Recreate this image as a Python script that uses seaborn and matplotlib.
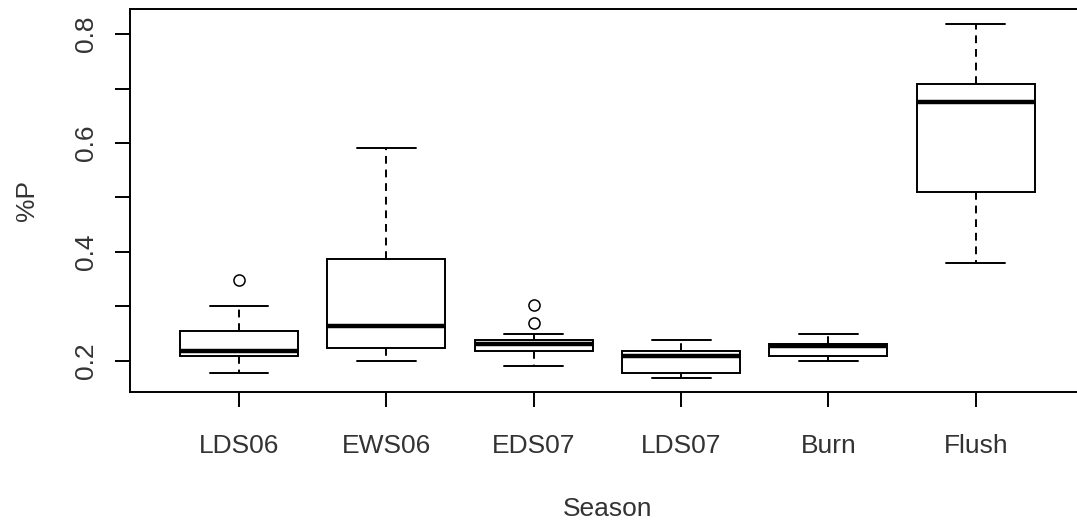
import numpy as np
import pandas as pd
import seaborn as sns
from matplotlib import pyplot as plt

seasons = ["LDS06", "EWS06", "EDS07", "LDS07", "Burn", "Flush"]

# lower whisker, Q1, median, Q3, upper whisker
lds06 = [0.178, 0.209, 0.218, 0.255, 0.300]
ews06 = [0.200, 0.224, 0.264, 0.388, 0.590]
eds07 = [0.191, 0.219, 0.232, 0.238, 0.249]
lds07 = [0.169, 0.178, 0.209, 0.218, 0.239]
burn = [0.200, 0.209, 0.227, 0.231, 0.249]
flush = [0.379, 0.511, 0.675, 0.708, 0.818]

outlier_season = ["LDS06", "EDS07", "EDS07"]
outlier_value = [0.349, 0.270, 0.302]

ytick_values = [0.2, 0.3, 0.4, 0.5, 0.6, 0.7, 0.8]
ytick_labels = ["0.2", "", "0.4", "", "0.6", "", "0.8"]

df = pd.DataFrame({
    "Season": np.repeat(seasons, 5),
    "P": lds06 + ews06 + eds07 + lds07 + burn + flush,
})

sns.set_style("ticks")
plt.rcParams["font.family"] = ["Liberation Sans", "DejaVu Sans"]

fig = plt.figure(figsize=(10.77, 5.23), dpi=100)
# R-style plot region; the right edge of the frame falls just outside the image
ax = fig.add_axes([0.1207, 0.2505, 0.8865, 0.7323])

lw = 1.4
sns.boxplot(data=df, x="Season", y="P", order=seasons, whis=(0, 100), width=0.8,
            color="white", linecolor="black", linewidth=lw, showfliers=False,
            medianprops={"linewidth": 3.2},
            whiskerprops={"linestyle": (0, (4, 3))}, ax=ax)
sns.stripplot(x=outlier_season, y=outlier_value, order=seasons, jitter=False,
              color="white", edgecolor="black", linewidth=1.1, size=8, ax=ax)

ax.set_xlim(-0.74, 5.74)
ax.set_ylim(0.1431, 0.8459)
ax.set_yticks(ytick_values)
ax.set_yticklabels(ytick_labels, rotation=90, va="center")

ax.tick_params(axis="both", which="both", length=11, width=lw, color="black",
               labelsize=19, labelcolor="#333333", bottom=True, left=True)
ax.tick_params(axis="x", pad=19)
ax.tick_params(axis="y", pad=12)
for s in ax.spines.values():
    s.set_color("black")
    s.set_linewidth(lw)

ax.set_xlabel("Season", fontsize=19, color="#333333")
ax.set_ylabel("%P", fontsize=19, color="#333333")
ax.xaxis.set_label_coords(0.5, -0.273)
ax.yaxis.set_label_coords(-0.0953, 0.5)

fig.savefig("out.png", dpi=100)
